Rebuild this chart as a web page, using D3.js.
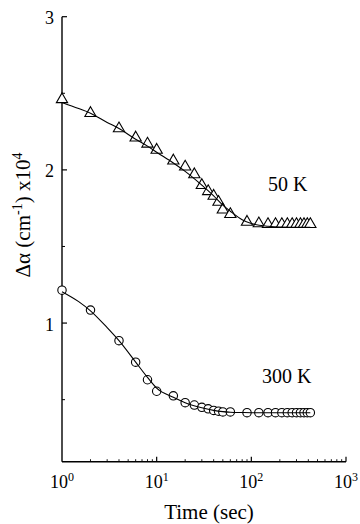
<!DOCTYPE html>
<html>
<head>
<meta charset="utf-8">
<script src="https://cdn.jsdelivr.net/npm/d3@7"></script>
<style>
  body { margin: 0; background: #fff; }
</style>
</head>
<body>
<div id="vis"></div>
<script>
const SVG = d3.select("#vis").append("svg");

const WIDTH = 360;
const HEIGHT = 524;
const FUENTE = "Liberation Serif";

// measured data (time in sec, delta alpha in 1e4 cm^-1)
const tiempos = [1, 2, 4, 6, 8, 10, 15, 20, 25, 30, 35, 40, 45, 50, 60, 90,
                 120, 150, 180, 210, 240, 270, 300, 330, 360, 390, 420];
const valores_50K = [2.46, 2.37, 2.27, 2.21, 2.17, 2.13, 2.06, 2.02, 1.97, 1.90, 1.86, 1.83, 1.79, 1.74, 1.71, 1.66,
                     1.65, 1.645, 1.645, 1.645, 1.645, 1.645, 1.645, 1.645, 1.645, 1.645, 1.645];
const valores_300K = [1.215, 1.085, 0.885, 0.745, 0.63, 0.555, 0.525, 0.48, 0.465, 0.45, 0.44, 0.43, 0.425, 0.42, 0.42, 0.415,
                      0.415, 0.415, 0.415, 0.415, 0.415, 0.415, 0.415, 0.415, 0.415, 0.415, 0.415];

// fitted curves
const tiempos_fit = [1, 1.5, 2, 3, 4, 6, 8, 10, 15, 20, 30, 40, 50, 60, 80, 100, 150, 200, 420];
const fit_50K = [2.44, 2.40, 2.37, 2.31, 2.27, 2.20, 2.155, 2.115, 2.045, 1.99, 1.90, 1.83, 1.77, 1.73, 1.675, 1.65, 1.632, 1.627, 1.625];
const fit_300K = [1.205, 1.14, 1.08, 0.97, 0.885, 0.745, 0.645, 0.575, 0.515, 0.48, 0.447, 0.43, 0.422, 0.418, 0.416, 0.415, 0.415, 0.415, 0.415];

const ticks_y = [1, 2, 3];
const ticks_y_menor = [0.5, 1.5, 2.5];
const ticks_x = [1, 10, 100, 1000];
const etiquetas_x = ["0", "1", "2", "3"];

SVG.attr("width", WIDTH).attr("height", HEIGHT);

//Escalas
const escala_x = d3.scaleLog()
    .domain([1, 1000])
    .range([62, 346]);

const escala_y = d3.scaleLinear()
    .domain([0.095, 3])
    .range([461.7, 16.7]);

const x0 = escala_x(1);
const y0 = escala_y(0.095);

//Ejes
const ejes = SVG.append("g").attr("id", "ejes");

ejes.append("line")
    .attr("x1", x0).attr("x2", x0)
    .attr("y1", escala_y(3)).attr("y2", y0)
    .attr("stroke", "black").attr("stroke-width", 1.4);

ejes.append("line")
    .attr("x1", x0).attr("x2", escala_x(1000))
    .attr("y1", y0).attr("y2", y0)
    .attr("stroke", "black").attr("stroke-width", 1.4);

ejes.selectAll(".tick-y")
    .data(ticks_y)
    .join("line")
    .attr("class", "tick-y")
    .attr("x1", x0).attr("x2", x0 + 5)
    .attr("y1", d => escala_y(d)).attr("y2", d => escala_y(d))
    .attr("stroke", "black").attr("stroke-width", 1.2);

ejes.selectAll(".tick-y-menor")
    .data(ticks_y_menor)
    .join("line")
    .attr("class", "tick-y-menor")
    .attr("x1", x0).attr("x2", x0 + 3)
    .attr("y1", d => escala_y(d)).attr("y2", d => escala_y(d))
    .attr("stroke", "black").attr("stroke-width", 1);

ejes.selectAll(".label-y")
    .data(ticks_y)
    .join("text")
    .attr("class", "label-y")
    .attr("x", 54)
    .attr("y", d => escala_y(d))
    .attr("dy", "0.42em")
    .attr("text-anchor", "end")
    .attr("font-family", FUENTE)
    .attr("font-size", 18)
    .text(d => d);

// minor ticks of the log axis
const ticks_x_menor = [];
[1, 10, 100].forEach(dec => {
    for (let k = 2; k <= 9; k++) ticks_x_menor.push(dec * k);
});

ejes.selectAll(".tick-x")
    .data(ticks_x.slice(1))
    .join("line")
    .attr("class", "tick-x")
    .attr("x1", d => escala_x(d)).attr("x2", d => escala_x(d))
    .attr("y1", y0).attr("y2", y0 - 5)
    .attr("stroke", "black").attr("stroke-width", 1.2);

ejes.selectAll(".tick-x-menor")
    .data(ticks_x_menor)
    .join("line")
    .attr("class", "tick-x-menor")
    .attr("x1", d => escala_x(d)).attr("x2", d => escala_x(d))
    .attr("y1", y0).attr("y2", y0 - 2.5)
    .attr("stroke", "black").attr("stroke-width", 0.9);

const labels_x = ejes.selectAll(".label-x")
    .data(ticks_x)
    .join("text")
    .attr("class", "label-x")
    .attr("x", d => escala_x(d))
    .attr("y", 487.5)
    .attr("text-anchor", "middle")
    .attr("font-family", FUENTE)
    .attr("font-size", 18);

labels_x.append("tspan").text("10");
labels_x.append("tspan")
    .attr("dy", -7)
    .attr("font-size", 12)
    .text((d, i) => etiquetas_x[i]);

// titulos
ejes.append("text")
    .attr("x", 209)
    .attr("y", 519)
    .attr("text-anchor", "middle")
    .attr("font-family", FUENTE)
    .attr("font-size", 21)
    .text("Time (sec)");

const titulo_y = ejes.append("text")
    .attr("transform", "translate(30,215) rotate(-90)")
    .attr("text-anchor", "middle")
    .attr("font-family", FUENTE)
    .attr("font-size", 21);
titulo_y.append("tspan").text("\u0394\u03b1 (cm");
titulo_y.append("tspan").attr("dy", -8).attr("font-size", 14).text("-1");
titulo_y.append("tspan").attr("dy", 8).text(") x10");
titulo_y.append("tspan").attr("dy", -8).attr("font-size", 14).text("4");

//Figuras
const linea = serie => d3.line()
    .x((d, i) => escala_x(tiempos_fit[i]))
    .y(d => escala_y(d))
    .curve(d3.curveMonotoneX)(serie);

const datos = SVG.append("g").attr("id", "datos");

const triangulo = d3.symbol().type(d3.symbolTriangle).size(55);

datos.selectAll(".tri")
    .data(valores_50K)
    .join("path")
    .attr("class", "tri")
    .attr("d", triangulo)
    .attr("transform", (d, i) => `translate(${escala_x(tiempos[i])},${escala_y(d)})`)
    .attr("fill", "white").attr("stroke", "black").attr("stroke-width", 1.1);

datos.selectAll(".circ")
    .data(valores_300K)
    .join("circle")
    .attr("class", "circ")
    .attr("cx", (d, i) => escala_x(tiempos[i]))
    .attr("cy", d => escala_y(d))
    .attr("r", 4.2)
    .attr("fill", "white").attr("stroke", "black").attr("stroke-width", 1.1);

// fit lines drawn over the markers
datos.append("path")
    .attr("d", linea(fit_50K))
    .attr("fill", "none").attr("stroke", "black").attr("stroke-width", 1.1);

datos.append("path")
    .attr("d", linea(fit_300K))
    .attr("fill", "none").attr("stroke", "black").attr("stroke-width", 1.1);

// etiquetas de serie
datos.append("text")
    .attr("x", 268).attr("y", 191)
    .attr("font-family", FUENTE)
    .attr("font-size", 20)
    .text("50 K");

datos.append("text")
    .attr("x", 262).attr("y", 383)
    .attr("font-family", FUENTE)
    .attr("font-size", 20)
    .text("300 K");
</script>
</body>
</html>
